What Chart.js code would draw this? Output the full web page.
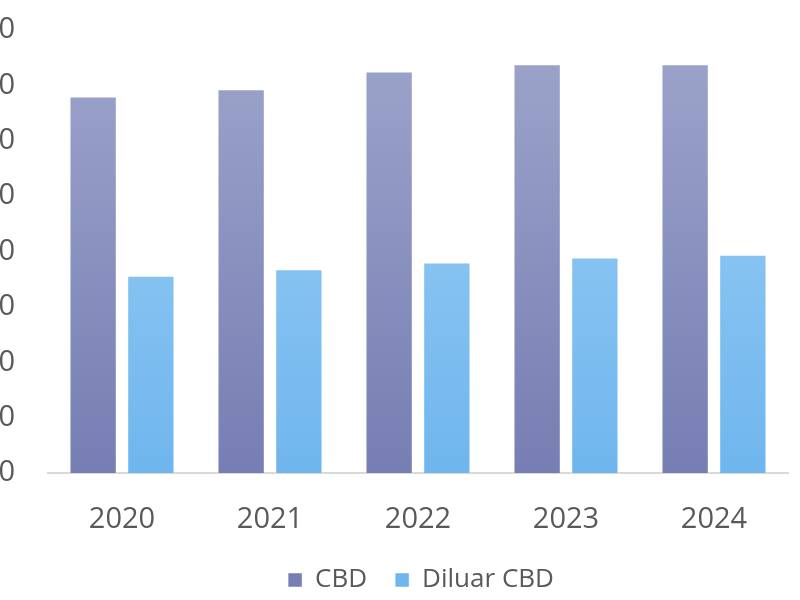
<!DOCTYPE html>
<html>
<head>
<meta charset="utf-8">
<script src="https://cdn.jsdelivr.net/npm/chart.js@4/dist/chart.umd.min.js"></script>
<style>
  html, body { margin: 0; padding: 0; background: #ffffff; }
  #wrap { width: 800px; height: 600px; position: relative; overflow: hidden; }
</style>
</head>
<body>
<div id="wrap"><canvas id="myChart"></canvas></div>
<script>
var years = ["2020", "2021", "2022", "2023", "2024"];
var cbdValues = [68.0, 69.3, 72.5, 73.8, 73.8];
var diluarValues = [35.6, 36.8, 38.0, 38.9, 39.4];
var yTicks = [0, 10, 20, 30, 40, 50, 60, 70, 80];

function gradient(ctx, top, bottom) {
    var area = ctx.chart.chartArea;
    if (!area) return bottom;
    var g = ctx.chart.ctx.createLinearGradient(0, area.top, 0, area.bottom);
    g.addColorStop(0, top);
    g.addColorStop(1, bottom);
    return g;
}

// nudge the legend a bit right, like the original
var legendShift = {
    id: 'legendShift',
    afterLayout: function(chart) {
        chart.legend.left += 27;
        chart.legend.right += 27;
    }
};

var ctx = document.getElementById('myChart').getContext('2d');
var chart = new Chart(ctx, {
    type: 'bar',
    data: {
        labels: years,
        datasets: [{
            label: 'CBD',
            data: cbdValues,
            backgroundColor: function(c) { return gradient(c, '#9ea5cb', '#767eb3'); },
            borderColor: 'rgba(255,255,255,0.5)',
            borderWidth: 1,
            categoryPercentage: 0.78,
            barPercentage: 0.82
        }, {
            label: 'Diluar CBD',
            data: diluarValues,
            backgroundColor: function(c) { return gradient(c, '#9fd0f5', '#6fb6ee'); },
            borderColor: 'rgba(255,255,255,0.5)',
            borderWidth: 1,
            categoryPercentage: 0.78,
            barPercentage: 0.82
        }]
    },
    plugins: [legendShift],
    options: {
        responsive: true,
        maintainAspectRatio: false,
        animation: false,
        layout: {
            padding: { top: 30, right: 12, bottom: -3, left: 0 }
        },
        scales: {
            x: {
                afterFit: function(scale) { scale.height = 66; },
                grid: { display: false, drawTicks: false },
                border: { color: '#d9d9d9', width: 2 },
                ticks: {
                    color: '#595959',
                    padding: 32,
                    font: { family: 'Open Sans', size: 29, lineHeight: 1.0 }
                }
            },
            y: {
                min: 0,
                max: 80,
                afterFit: function(scale) {
                    scale.width = 48;
                    scale.paddingTop = 0;
                    scale.paddingBottom = 0;
                },
                afterBuildTicks: function(scale) {
                    scale.ticks = yTicks.map(function(v) { return { value: v }; });
                },
                grid: { display: false, drawTicks: false },
                border: { display: false },
                ticks: {
                    color: '#595959',
                    padding: 33,
                    font: { family: 'Open Sans', size: 29 }
                }
            }
        },
        plugins: {
            legend: {
                position: 'bottom',
                labels: {
                    color: '#595959',
                    boxWidth: 14,
                    boxHeight: 14,
                    padding: 28,
                    font: { family: 'Open Sans', size: 26 }
                }
            },
            tooltip: { enabled: false }
        }
    }
});
</script>
</body>
</html>
